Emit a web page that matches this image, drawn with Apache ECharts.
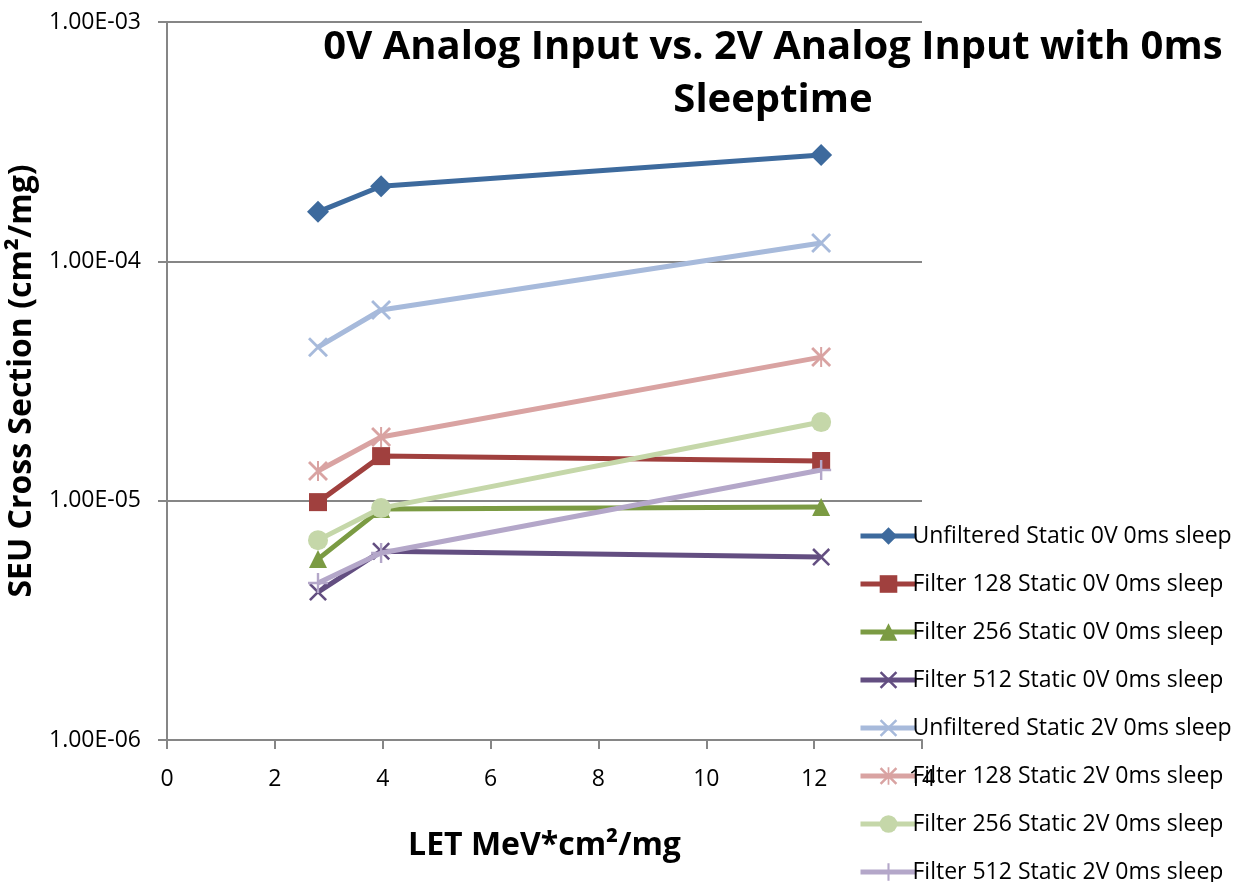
<!DOCTYPE html>
<html>
<head>
<meta charset="utf-8">
<script src="https://cdn.jsdelivr.net/npm/echarts@6/dist/echarts.min.js"></script>
<style>
  html, body { margin: 0; padding: 0; background: #fff; }
  #chart { width: 1238px; height: 882px; }
</style>
</head>
<body>
<div id="chart"></div>
<script>
const LET = [2.8, 3.97, 12.13]

const SERIES_NAMES = [
  'Unfiltered Static 0V 0ms sleep',
  'Filter 128 Static 0V 0ms sleep',
  'Filter 256 Static 0V 0ms sleep',
  'Filter 512 Static 0V 0ms sleep',
  'Unfiltered Static 2V 0ms sleep',
  'Filter 128 Static 2V 0ms sleep',
  'Filter 256 Static 2V 0ms sleep',
  'Filter 512 Static 2V 0ms sleep',
]

const unfiltered0V = [1.61e-4, 2.06e-4, 2.78e-4]
const filter128_0V = [9.86e-6, 1.535e-5, 1.465e-5]
const filter256_0V = [5.70e-6, 9.22e-6, 9.40e-6]
const filter512_0V = [4.15e-6, 6.15e-6, 5.81e-6]
const unfiltered2V = [4.38e-5, 6.26e-5, 1.193e-4]
const filter128_2V = [1.33e-5, 1.845e-5, 3.98e-5]
const filter256_2V = [6.84e-6, 9.31e-6, 2.13e-5]
const filter512_2V = [4.53e-6, 6.04e-6, 1.343e-5]

const Y_TICKS = ['1.00E-06', '1.00E-05', '1.00E-04', '1.00E-03']

const VALUES = [unfiltered0V, filter128_0V, filter256_0V, filter512_0V,
  unfiltered2V, filter128_2V, filter256_2V, filter512_2V]

const COLORS = ['#3d6a9d', '#a0403e', '#7b9b43', '#634e81', '#a7badb', '#d9a3a2', '#c5d7a9', '#b4a7c9']

const X_PATH = 'path://M0,1 L1,0 L10,9 L9,10 Z M9,0 L10,1 L1,10 L0,9 Z'
const STAR_PATH = 'path://M0,1 L1,0 L10,9 L9,10 Z M9,0 L10,1 L1,10 L0,9 Z M4.5,0 L5.5,0 L5.5,10 L4.5,10 Z'
const PLUS_PATH = 'path://M4.4,0 L5.6,0 L5.6,10 L4.4,10 Z M0,4.4 L10,4.4 L10,5.6 L0,5.6 Z'
const SYMBOLS = ['diamond', 'rect', 'triangle', X_PATH, X_PATH, STAR_PATH, 'circle', PLUS_PATH]
const SYMBOL_SIZES = [22, 18, 18, 18, 20, 20, 20, 20]

const FONT = '"Open Sans", "Noto Sans", sans-serif'
const chart = echarts.init(document.getElementById('chart'), null, { renderer: 'canvas' })

const option = {
  animation: false,
  backgroundColor: '#fff',
  title: {
    text: '0V Analog Input vs. 2V Analog Input with 0ms\nSleeptime',
    left: 768, top: 16, textAlign: 'center',
    textStyle: { fontFamily: FONT, fontSize: 40, fontWeight: 'bold', color: '#000', lineHeight: 53 },
  },
  legend: {
    orient: 'vertical', left: 853, top: 515, height: 420,
    itemWidth: 56, itemHeight: 22, itemGap: 16,
    lineStyle: { width: 5 },
    textStyle: { fontFamily: FONT, fontSize: 23, color: '#000', lineHeight: 32, padding: [0, 0, 0, -9] },
    data: SERIES_NAMES,
  },
  grid: { left: 167, right: 316, top: 22, bottom: 142, outerBoundsMode: 'none' },
  xAxis: {
    type: 'value', min: 0, max: 14, interval: 2,
    name: 'LET MeV*cm²/mg', nameLocation: 'middle', nameGap: 90,
    nameTextStyle: { fontFamily: FONT, fontSize: 32, fontWeight: 'bold', color: '#000' },
    axisLine: { onZero: false, lineStyle: { color: '#868686', width: 2 } },
    axisTick: { show: true, length: 9, lineStyle: { color: '#868686', width: 2 } },
    axisLabel: { fontFamily: FONT, fontSize: 23, color: '#000', margin: 28 },
    splitLine: { show: false },
  },
  yAxis: {
    type: 'log', logBase: 10, min: 1e-6, max: 1e-3,
    name: 'SEU Cross Section (cm²/mg)', nameLocation: 'middle', nameGap: 124,
    nameTextStyle: { fontFamily: FONT, fontSize: 32, fontWeight: 'bold', color: '#000' },
    axisLine: { show: true, lineStyle: { color: '#868686', width: 2 } },
    axisTick: { show: true, length: 9, lineStyle: { color: '#868686', width: 2 } },
    axisLabel: {
      fontFamily: FONT, fontSize: 23, color: '#000', margin: 26,
      formatter: (v) => Y_TICKS[Math.round(Math.log10(v)) + 6] || '',
    },
    splitLine: { show: true, lineStyle: { color: '#868686', width: 2 } },
    minorTick: { show: false },
  },
  series: SERIES_NAMES.map((name, i) => ({
    name,
    type: 'line',
    data: LET.map((x, j) => [x, VALUES[i][j]]),
    symbol: SYMBOLS[i],
    symbolSize: SYMBOL_SIZES[i],
    showAllSymbol: true,
    lineStyle: { color: COLORS[i], width: 5 },
    itemStyle: { color: COLORS[i], borderWidth: 0 },
    z: 2 + i,
  })),
}

chart.setOption(option)
</script>
</body>
</html>
